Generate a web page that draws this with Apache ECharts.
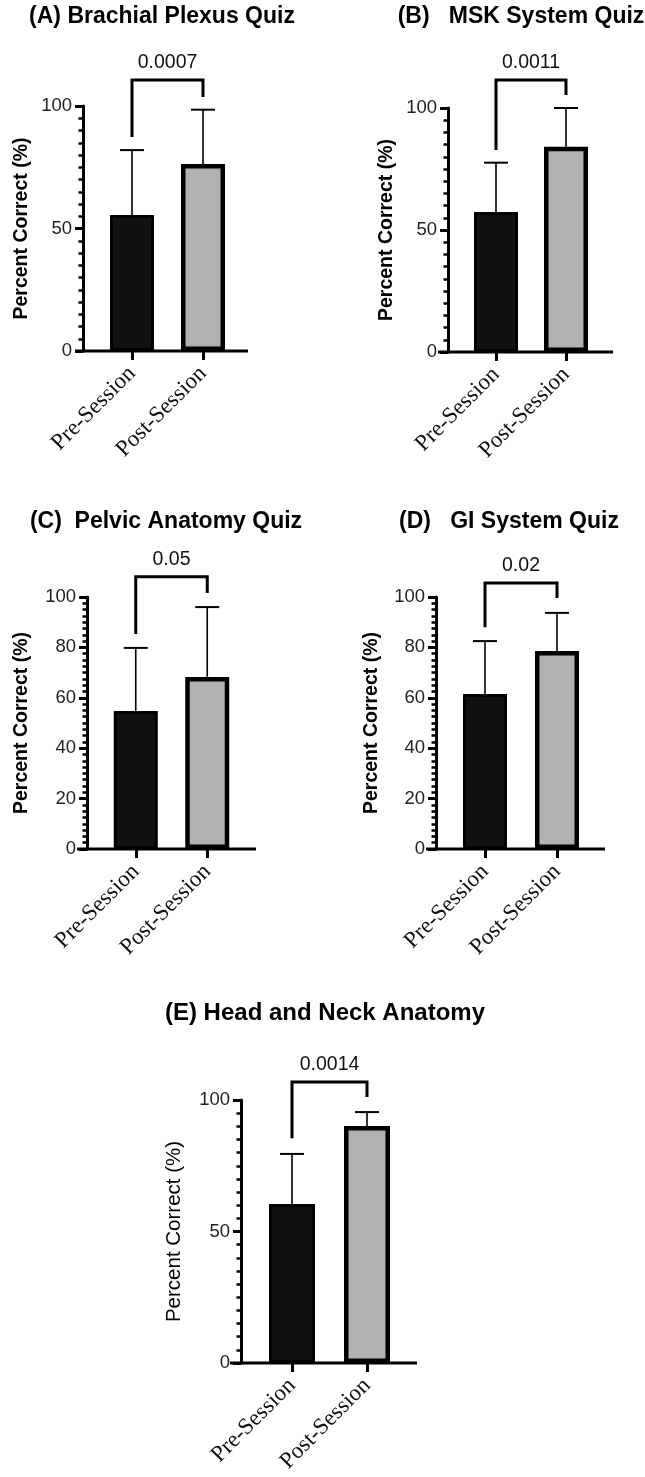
<!DOCTYPE html>
<html>
<head>
<meta charset="utf-8">
<script src="https://cdn.jsdelivr.net/npm/echarts@6/dist/echarts.min.js"></script>
<style>
html,body{margin:0;padding:0;background:#fff;}
#chart{width:645px;height:1477px;}
</style>
</head>
<body>
<div id="chart"></div>
<script>
// ---- data ----
const categories = ['Pre-Session', 'Post-Session'];
const panelTitles = ['(A) Brachial Plexus Quiz', '(B)   MSK System Quiz', '(C)  Pelvic Anatomy Quiz', '(D)   GI System Quiz', '(E) Head and Neck Anatomy'];
const preMean  = [55.5, 57.4, 54.8, 61.5, 60.5];
const preSD    = [26.5, 20.2, 25.0, 21.0, 19.0];
const postMean = [76.3, 84.1, 68.3, 78.6, 90.1];
const postSD   = [22.2, 15.9, 27.7, 15.1, 5.3];
const pValues  = ['0.0007', '0.0011', '0.05', '0.02', '0.0014'];
const bracketTop   = [110.6, 111.5, 108.0, 105.6, 106.8];
const bracketLeft  = [87.3, 82.8, 85.3, 88.0, 85.5];
const bracketRight = [103.7, 105.3, 101.6, 99.6, 101.1];
const yMax      = [100, 100, 100, 100, 100];
const yInterval = [50, 50, 20, 20, 50];
const yMinorSplit = [10, 10, 8, 8, 10];

// ---- layout (positions/styles only) ----
const layout = [
  {left: 96.5, top: 106, width: 142, height: 245, offset: 13.5, nameGap: 51, nameBold: true, tx: 162, ty: 17, lx: 8, rx: 9.5, fs: 23},
  {left: 461,  top: 108, width: 140, height: 244, offset: 13,   nameGap: 51, nameBold: true, tx: 521, ty: 17, lx: 10, rx: 12, fs: 23},
  {left: 100,  top: 597, width: 143, height: 252, offset: 13,   nameGap: 55, nameBold: true, tx: 166, ty: 522, lx: 10, rx: 13, fs: 23},
  {left: 449,  top: 597, width: 144, height: 252, offset: 13,   nameGap: 54, nameBold: true, tx: 509, ty: 522, lx: 10, rx: 12, fs: 23},
  {left: 254.5,top: 1100,width: 150, height: 263, offset: 13.5, nameGap: 56, nameBold: false, tx: 325, ty: 1013, lx: 11, rx: 12.5, fs: 24}
];

const SANS = '"Liberation Sans", Arial, Helvetica, sans-serif';
const SERIF = '"Liberation Serif", "Times New Roman", serif';

const grids = [], xAxes = [], yAxes = [], series = [], graphics = [];

layout.forEach((L, i) => {
  grids.push({left: L.left, top: L.top, width: L.width, height: L.height, containLabel: false, outerBoundsMode: 'none'});
  xAxes.push({
    type: 'category', gridIndex: i, data: categories,
    axisLine: {show: false},
    axisTick: {show: true, alignWithLabel: true, length: 9, lineStyle: {color: '#000', width: 3}},
    axisLabel: {rotate: 45, margin: 19, fontFamily: SERIF, fontSize: 23, color: '#111'},
    splitLine: {show: false}
  });
  yAxes.push({
    type: 'value', gridIndex: i, min: 0, max: yMax[i], interval: yInterval[i],
    offset: L.offset,
    name: 'Percent Correct (%)', nameLocation: 'middle', nameGap: L.nameGap,
    nameTextStyle: {fontFamily: SANS, fontSize: L.nameBold ? 19.5 : 20.5, fontWeight: L.nameBold ? 'bold' : 'normal', color: '#000'},
    axisLine: {show: true, lineStyle: {color: '#000', width: 3}},
    axisTick: {show: true, length: 8, lineStyle: {color: '#000', width: 3}},
    minorTick: {show: true, splitNumber: yMinorSplit[i], length: 4.5, lineStyle: {color: '#000', width: 2.5}},
    axisLabel: {margin: 11, fontFamily: SANS, fontSize: 18.5, color: '#222'},
    splitLine: {show: false}
  });

  // bars
  const wide = i === 4 ? 2 : 0;
  series.push({
    type: 'bar', xAxisIndex: i, yAxisIndex: i, z: 3,
    data: [
      {value: preMean[i], itemStyle: {color: '#111111', borderColor: '#000', borderWidth: 3}},
      {value: postMean[i], itemStyle: {color: '#b1b1b1', borderColor: '#000', borderWidth: 4.5}}
    ],
    barWidth: 44 + wide
  });

  // error bars (upper only)
  series.push({
    type: 'custom', xAxisIndex: i, yAxisIndex: i, z: 2, clip: false,
    data: [[0, preMean[i], preMean[i] + preSD[i]], [1, postMean[i], postMean[i] + postSD[i]]],
    encode: {x: 0, y: [1, 2]},
    renderItem: function (params, api) {
      const c = api.value(0);
      const p0 = api.coord([c, api.value(1)]);
      const p1 = api.coord([c, api.value(2)]);
      return {type: 'group', children: [
        {type: 'line', shape: {x1: p0[0], y1: p0[1], x2: p1[0], y2: p1[1]}, style: {stroke: '#000', lineWidth: 1.6}},
        {type: 'line', shape: {x1: p1[0] - 12, y1: p1[1], x2: p1[0] + 12, y2: p1[1]}, style: {stroke: '#000', lineWidth: 2}}
      ]};
    }
  });

  // baseline x-axis line (extends past the y axis and the last bar)
  series.push({
    type: 'custom', xAxisIndex: i, yAxisIndex: i, z: 4, clip: false, silent: true,
    data: [[0, 0]],
    renderItem: (function (L) {
      return function (params, api) {
        const cs = params.coordSys;
        const y0 = api.coord([0, 0])[1];
        return {type: 'line', shape: {x1: cs.x - L.offset - L.lx, y1: y0, x2: cs.x + cs.width + L.rx, y2: y0},
                style: {stroke: '#000', lineWidth: 3}};
      };
    })(L)
  });

  // significance bracket + p-value
  series.push({
    type: 'custom', xAxisIndex: i, yAxisIndex: i, z: 5, clip: false, silent: true,
    data: [[0, 1, bracketTop[i], bracketLeft[i], bracketRight[i]]],
    encode: {x: [0, 1], y: [3]},
    renderItem: (function (p) {
      return function (params, api) {
        const a = api.coord([api.value(0), api.value(3)]);
        const t0 = api.coord([api.value(0), api.value(2)]);
        const t1 = api.coord([api.value(1), api.value(2)]);
        const b = api.coord([api.value(1), api.value(4)]);
        return {type: 'group', children: [
          {type: 'polyline', shape: {points: [a, t0, t1, b]}, style: {stroke: '#000', lineWidth: 3, fill: null, lineJoin: 'miter'}},
          {type: 'text', style: {text: p, x: (t0[0] + t1[0]) / 2, y: t0[1] - 7, align: 'center', verticalAlign: 'bottom',
            font: '19.5px ' + SANS, fill: '#111'}}
        ]};
      };
    })(pValues[i])
  });

  graphics.push({
    type: 'text', x: L.tx, y: L.ty,
    style: {text: panelTitles[i], align: 'center', verticalAlign: 'middle', font: 'bold ' + L.fs + 'px ' + SANS, fill: '#000'}
  });
});

const chart = echarts.init(document.getElementById('chart'), null, {renderer: 'canvas'});
chart.setOption({
  animation: false,
  backgroundColor: '#fff',
  grid: grids, xAxis: xAxes, yAxis: yAxes, series: series, graphic: graphics
});
</script>
</body>
</html>
